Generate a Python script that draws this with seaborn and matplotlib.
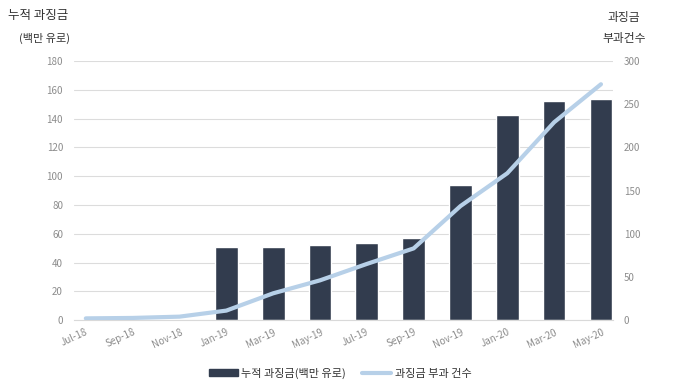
import seaborn as sns
import matplotlib.pyplot as plt
import pandas as pd
from matplotlib.patches import Patch
from matplotlib.lines import Line2D

# Data (every second month, Jul-18 .. May-20)
months = ['Jul-18', 'Sep-18', 'Nov-18', 'Jan-19', 'Mar-19', 'May-19',
          'Jul-19', 'Sep-19', 'Nov-19', 'Jan-20', 'Mar-20', 'May-20']
month_index = [0, 2, 4, 6, 8, 10, 12, 14, 16, 18, 20, 22]
fines = [None, None, None, 50.5, 51.0, 52.2, 53.2, 57.0, 93.5, 142.5, 152.0, 153.5]
cases = [2, 2.5, 4, 11, 31, 46, 65, 83, 132, 170, 229, 273]

df = pd.DataFrame({'month': month_index, 'fine': fines, 'cases': cases})

sns.set_style('white')
plt.rcParams['font.family'] = ['Noto Sans CJK KR', 'DejaVu Sans']

bar_color = '#323c4e'
line_color = '#b7d0e8'
tick_color = '#8c8c8c'

fig = plt.figure(figsize=(6.8, 3.88), dpi=100)
ax = fig.add_axes([0.109, 0.175, 0.792, 0.668])

bars = df.dropna(subset=['fine'])
sns.barplot(data=bars, x='month', y='fine', native_scale=True, color=bar_color,
            width=0.485, saturation=1, ax=ax)

ax2 = ax.twinx()
sns.lineplot(data=df, x='month', y='cases', color=line_color, linewidth=3,
             ax=ax2)

ax.set_xlim(-0.5, 22.5)
ax.set_ylim(0, 180)
ax2.set_ylim(0, 300)
ax.set_yticks(range(0, 181, 20))
ax2.set_yticks(range(0, 301, 50))
ax.set_xticks([m - 0.5 for m in month_index])
ax.set_xticklabels(months, rotation=25, ha='center', fontsize=7, color=tick_color)

ax.grid(axis='y', color='#dcdcdc', linewidth=0.8)
ax.set_axisbelow(True)
for a in (ax, ax2):
    for s in ('top', 'left', 'right'):
        a.spines[s].set_visible(False)
    a.spines['bottom'].set_color('#d9d9d9')
    a.set_xlabel('')
    a.set_ylabel('')
ax2.spines['bottom'].set_visible(False)

ax.tick_params(axis='x', length=4, color='#d9d9d9', pad=1)
ax.tick_params(axis='y', length=0, labelsize=7, labelcolor=tick_color, pad=8)
ax2.tick_params(axis='y', length=0, labelsize=7, labelcolor=tick_color, pad=8)

fig.text(0.012, 0.96, '누적 과징금', fontsize=9, color='#333333', va='center')
fig.text(0.066, 0.90, '(백만 유로)', fontsize=8, color='#333333', va='center', ha='center')
fig.text(0.918, 0.955, '과징금', fontsize=8.5, color='#333333', va='center', ha='center')
fig.text(0.918, 0.902, '부과건수', fontsize=8.5, color='#333333', va='center', ha='center')

handles = [Patch(color=bar_color), Line2D([0], [0], color=line_color, linewidth=3)]
labels = ['누적 과징금(백만 유로)', '과징금 부과 건수']
fig.legend(handles, labels, loc='center', bbox_to_anchor=(0.5, 0.038), ncol=2,
           frameon=False, fontsize=8, handlelength=2.6, handleheight=0.6,
           handletextpad=0.3, columnspacing=1.5, labelcolor='#333333')

fig.savefig('out.png', dpi=100)
